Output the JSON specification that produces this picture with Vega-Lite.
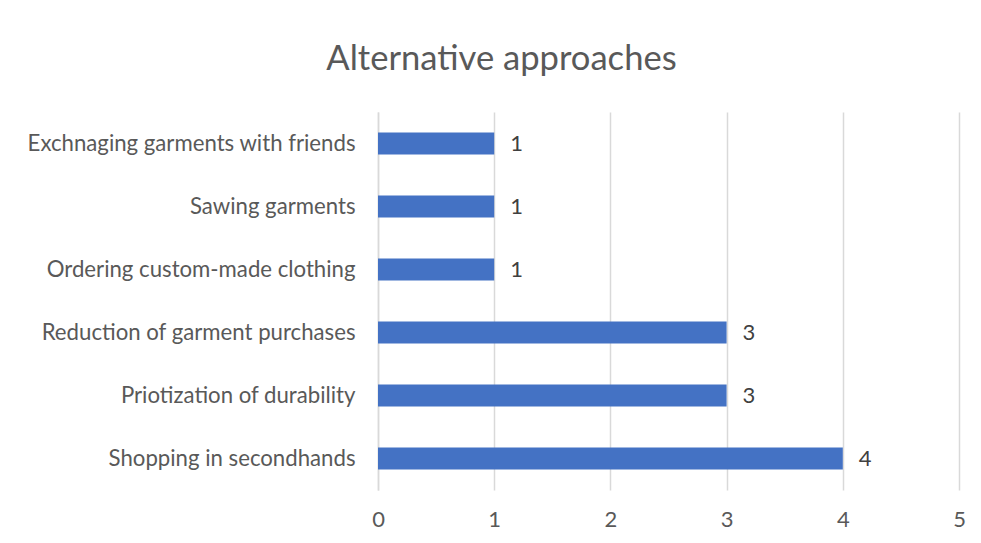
{
  "$schema": "https://vega.github.io/schema/vega-lite/v6.json",
  "width": 581,
  "height": 378,
  "autosize": {"type": "none"},
  "padding": {"left": 378, "top": 112, "right": 22, "bottom": 53},
  "background": "white",
  "title": {
    "text": "Alternative approaches",
    "anchor": "middle",
    "dx": -167,
    "offset": 34,
    "fontSize": 34.6,
    "font": "Lato",
    "fontWeight": "normal",
    "color": "#595959"
  },
  "data": {
    "values": [
      {"approach": "Exchnaging garments with friends", "count": 1},
      {"approach": "Sawing garments", "count": 1},
      {"approach": "Ordering custom-made clothing ", "count": 1},
      {"approach": "Reduction of garment purchases", "count": 3},
      {"approach": "Priotization of durability", "count": 3},
      {"approach": "Shopping in secondhands", "count": 4}
    ]
  },
  "encoding": {
    "y": {
      "field": "approach",
      "type": "nominal",
      "sort": null,
      "scale": {"paddingInner": 0.65, "paddingOuter": 0.325},
      "axis": {
        "title": null,
        "ticks": false,
        "domain": true,
        "domainColor": "#d9d9d9",
        "domainWidth": 1.5,
        "labelFont": "Lato",
        "labelFontSize": 22.2,
        "labelColor": "#595959",
        "labelPadding": 23,
        "labelLimit": 400,
        "encode": {
          "labels": {
            "update": {
              "dx": {"signal": "indexOf(datum.label, 'Ordering') === 0 ? -7 : 0"}
            }
          }
        }
      }
    },
    "x": {
      "field": "count",
      "type": "quantitative",
      "scale": {"domain": [0, 5]},
      "axis": {
        "title": null,
        "values": [0, 1, 2, 3, 4, 5],
        "ticks": false,
        "domain": false,
        "grid": true,
        "gridColor": "#d9d9d9",
        "gridWidth": 1.5,
        "labelOverlap": false,
        "labelFlush": false,
        "labelFont": "Lato",
        "labelFontSize": 22,
        "labelColor": "#595959",
        "labelPadding": 19
      }
    }
  },
  "layer": [
    {"mark": {"type": "bar", "color": "#4472C4"}},
    {
      "mark": {"type": "text", "align": "left", "dx": 16, "font": "Lato", "fontSize": 22, "color": "#404040"},
      "encoding": {"text": {"field": "count", "type": "quantitative"}}
    }
  ],
  "config": {"view": {"stroke": null}}
}
